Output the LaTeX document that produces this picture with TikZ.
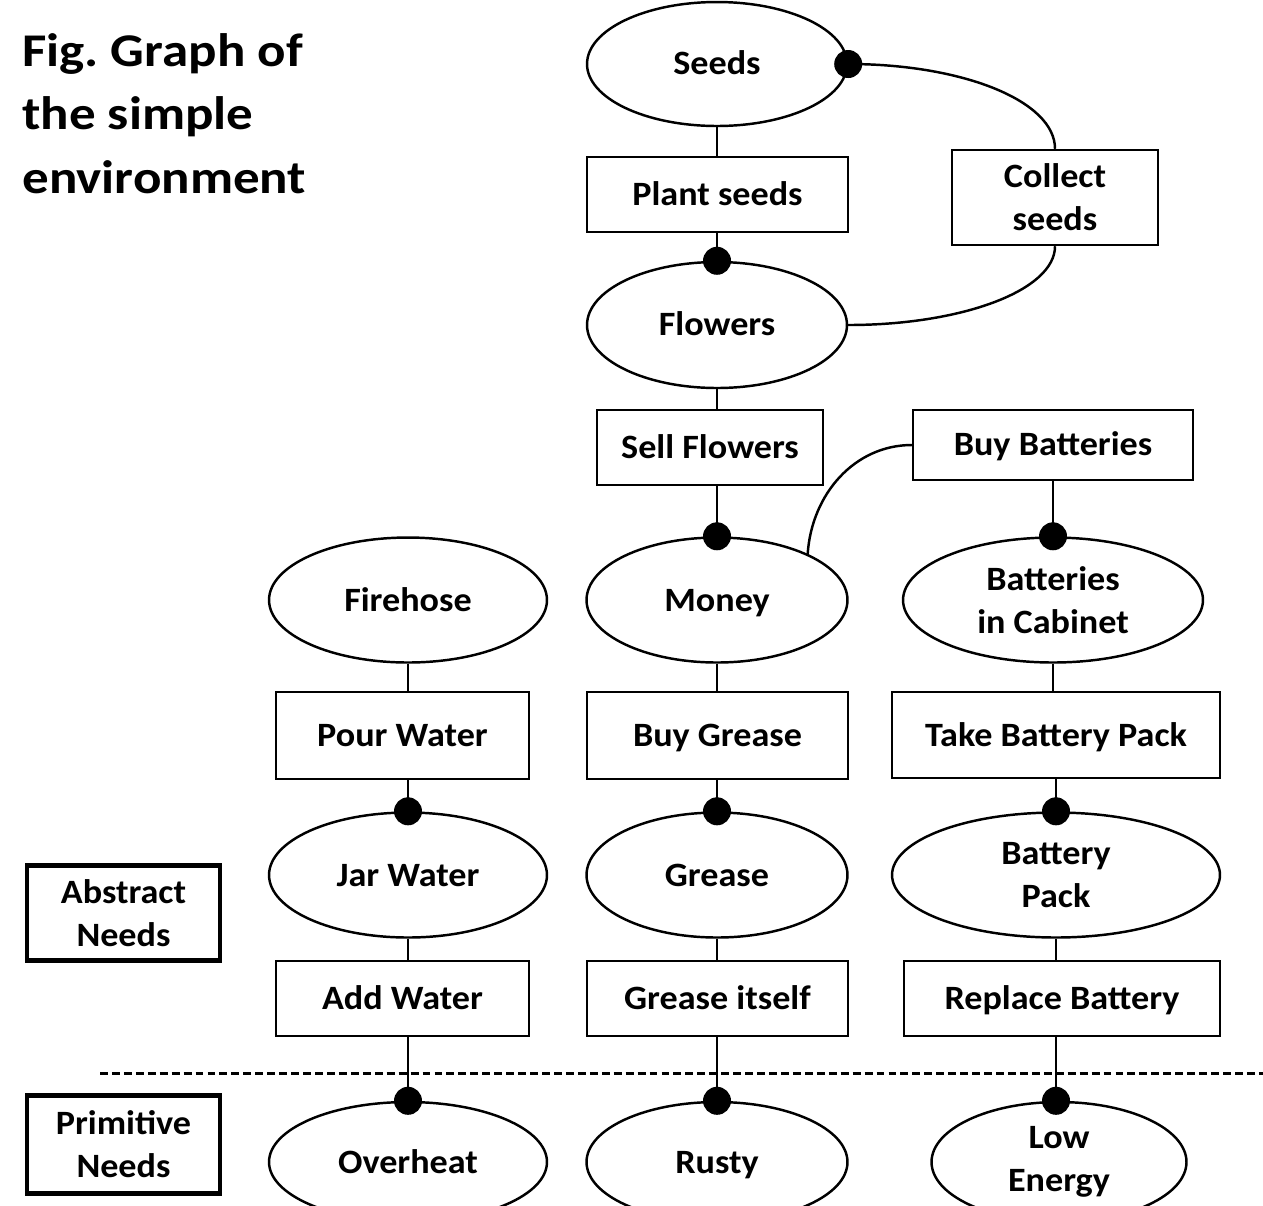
\documentclass[tikz,border=0pt]{standalone}
\usepackage{fontspec}
\setmainfont{Carlito}
\newfontfamily\nodefont{Carlito}[FakeStretch=1.06]
\newfontfamily\titlefont{Carlito}[FakeStretch=1.13]
\usetikzlibrary{shapes.geometric}
\begin{document}
\begin{tikzpicture}[x=0.02cm,y=-0.02cm,
  every node/.style={inner sep=0pt, align=center, font=\nodefont\fontsize{19.4}{24.5}\selectfont\bfseries},
  ell/.style={draw, ellipse, line width=1.4pt, minimum height=2.5cm},
  boxnode/.style={draw, rectangle, line width=1.4pt},
  legend/.style={draw, rectangle, line width=2.4pt, minimum width=3.86cm},
  one/.style={text height=12.5pt, text depth=0pt},
  link/.style={line width=1.4pt},
  dotmark/.style={fill=black}
]
\useasboundingbox (0,0) rectangle (1263,1205);

% title
\node[anchor=base west, align=left, font=\titlefont\fontsize{26.7}{36}\selectfont\bfseries] (title) at (22,193)
  {Fig.\ Graph of\\the simple\\environment};

% ellipses
\node[ell, one, minimum width=5.2cm, minimum height=2.48cm] (seeds) at (717,64) {Seeds};
\node[ell, one, minimum width=5.2cm, minimum height=2.52cm] (flowers) at (717,325) {Flowers};
\node[ell, one, minimum width=5.22cm] (money) at (717,600) {Money};
\node[ell, one, minimum width=5.56cm] (firehose) at (408,600) {Firehose};
\node[ell, minimum width=6.0cm] (cabinet) at (1053,600) {Batteries\\in Cabinet};
\node[ell, one, minimum width=5.56cm] (jar) at (408,875) {Jar Water};
\node[ell, one, minimum width=5.22cm] (grease) at (717,875) {Grease};
\node[ell, minimum width=6.56cm] (pack) at (1056,875) {Battery\\Pack};
\node[ell, one, minimum width=5.56cm, minimum height=2.4cm] (overheat) at (408,1162) {Overheat};
\node[ell, one, minimum width=5.22cm, minimum height=2.4cm] (rusty) at (717,1162) {Rusty};
\node[ell, minimum width=5.1cm, minimum height=2.4cm] (low) at (1059,1162) {Low\\Energy};

% boxes
\node[boxnode, one, minimum width=5.22cm, minimum height=1.5cm] (plant) at (717.5,194.5) {Plant seeds};
\node[boxnode, minimum width=4.12cm, minimum height=1.9cm] (collect) at (1055,197.5) {Collect\\seeds};
\node[boxnode, one, minimum width=4.52cm, minimum height=1.5cm] (sell) at (710,447.5) {Sell Flowers};
\node[boxnode, one, minimum width=5.6cm, minimum height=1.4cm] (buybat) at (1053,445) {Buy Batteries};
\node[boxnode, one, minimum width=5.06cm, minimum height=1.74cm] (pour) at (402.5,735.5) {Pour Water};
\node[boxnode, one, minimum width=5.22cm, minimum height=1.74cm] (buygrease) at (717.5,735.5) {Buy Grease};
\node[boxnode, one, minimum width=6.56cm, minimum height=1.72cm] (take) at (1056,735) {Take Battery Pack};
\node[boxnode, one, minimum width=5.06cm, minimum height=1.5cm] (add) at (402.5,998.5) {Add Water};
\node[boxnode, one, minimum width=5.22cm, minimum height=1.5cm] (greaseitself) at (717.5,998.5) {Grease itself};
\node[boxnode, one, minimum width=6.32cm, minimum height=1.5cm] (replace) at (1062,998.5) {Replace Battery};
\node[legend, minimum height=1.9cm] (abstract) at (123.5,913) {Abstract\\Needs};
\node[legend, minimum height=1.96cm] (primitive) at (123.5,1144.5) {Primitive\\Needs};

% dashed separator
\coordinate (dashL) at (100,1073);
\coordinate (dashR) at (1263,1073);
\draw[line width=1.7pt, dash pattern=on 4.5pt off 2.3pt] (dashL) -- (dashR);

% vertical connectors
\draw[link] (seeds.south) -- (seeds.south |- plant.north);
\draw[link] (flowers.north |- plant.south) -- (flowers.north);
\draw[link] (flowers.south) -- (flowers.south |- sell.north);
\draw[link] (money.north |- sell.south) -- (money.north);
\draw[link] (cabinet.north |- buybat.south) -- (cabinet.north);

\draw[link] (firehose.south) -- (firehose.south |- pour.north);
\draw[link] (money.south) -- (money.south |- buygrease.north);
\draw[link] (cabinet.south) -- (cabinet.south |- take.north);

\draw[link] (jar.north |- pour.south) -- (jar.north);
\draw[link] (grease.north |- buygrease.south) -- (grease.north);
\draw[link] (pack.north |- take.south) -- (pack.north);

\draw[link] (jar.south) -- (jar.south |- add.north);
\draw[link] (grease.south) -- (grease.south |- greaseitself.north);
\draw[link] (pack.south) -- (pack.south |- replace.north);

\draw[link] (overheat.north |- add.south) -- (overheat.north);
\draw[link] (rusty.north |- greaseitself.south) -- (rusty.north);
\draw[link] (pack.south |- replace.south) -- (pack.south |- low.north);

% curved connectors
\draw[link] (seeds.east) .. controls +(114,0) and +(0,-48) .. (collect.north);
\draw[link] (collect.south) .. controls +(0,44) and +(114,0) .. (flowers.east);
\draw[link] (buybat.west) .. controls +(-57,0) and +(4,-60) .. (money.27);

% dots
\fill[dotmark] (seeds.east) circle (0.28cm);
\fill[dotmark] (flowers.north) circle (0.28cm);
\fill[dotmark] (money.north) circle (0.28cm);
\fill[dotmark] (cabinet.north) circle (0.28cm);
\fill[dotmark] (jar.north) circle (0.28cm);
\fill[dotmark] (grease.north) circle (0.28cm);
\fill[dotmark] (pack.north) circle (0.28cm);
\fill[dotmark] (overheat.north) circle (0.28cm);
\fill[dotmark] (rusty.north) circle (0.28cm);
\fill[dotmark] (pack.south |- low.north) circle (0.28cm);
\end{tikzpicture}
\end{document}
